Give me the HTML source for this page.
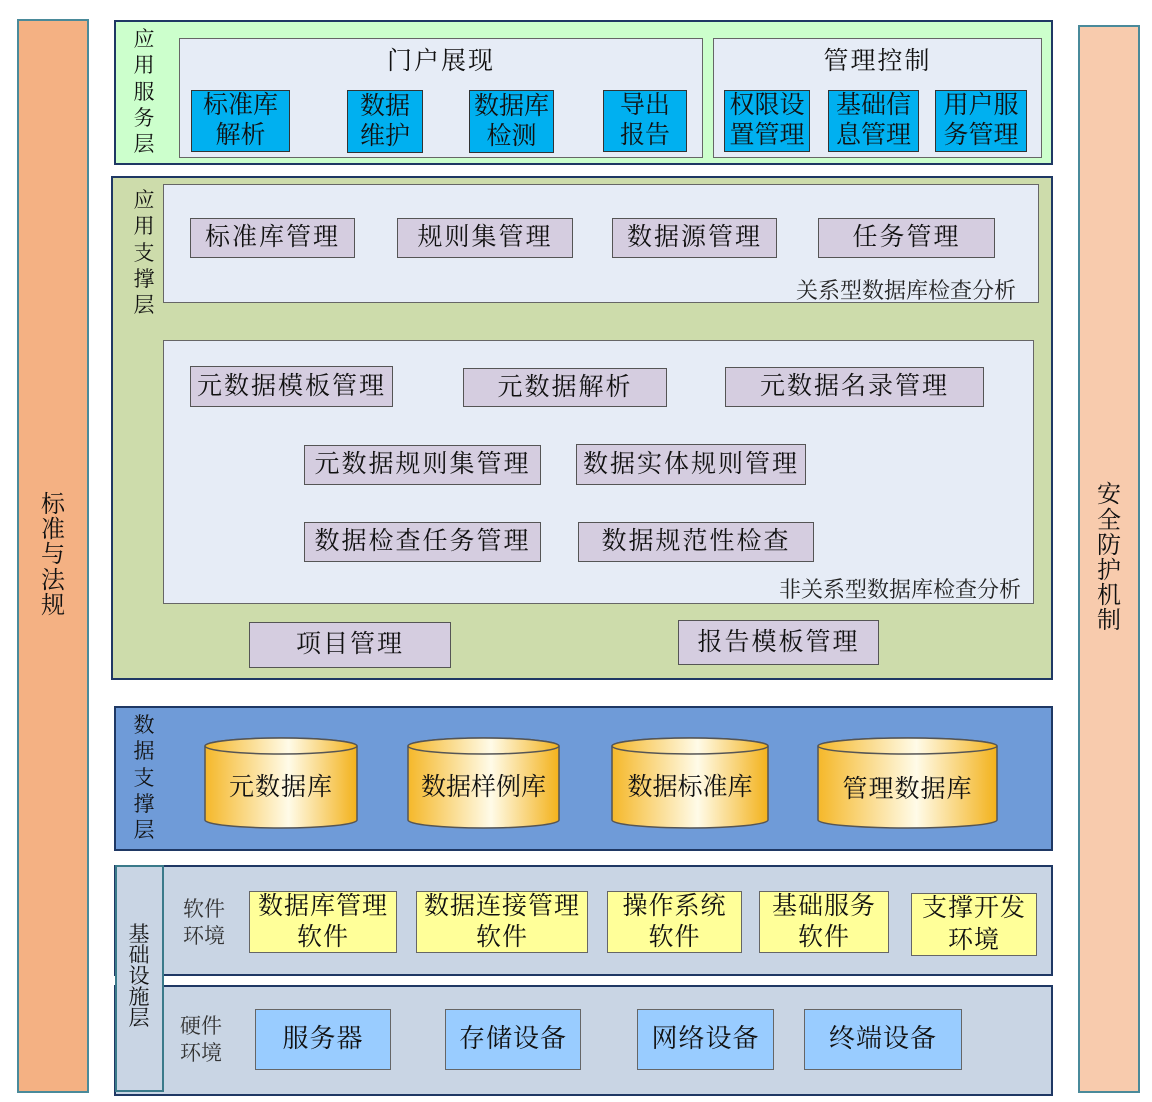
<!DOCTYPE html>
<html><head><meta charset="utf-8"><style>
body{margin:0;width:1152px;height:1102px;background:#fff;position:relative;overflow:hidden;font-family:"Liberation Serif","Noto Serif CJK SC",serif;color:#111}
div{position:absolute;box-sizing:border-box}
.c{display:flex;align-items:center;justify-content:center;text-align:center;line-height:1.25;white-space:nowrap}
.L{border:2px solid #1f3864}
.p{background:#d5cde0;border:1.5px solid #555;font-size:25px;letter-spacing:2px}
.bl{background:#00b0f0;border:1.5px solid #333;font-size:25px;line-height:1.2}
.y{background:#ffff99;border:1.5px solid #666;font-size:25px;line-height:1.25;letter-spacing:1px}
.h{background:#99ccff;border:1.5px solid #666;font-size:26px;letter-spacing:1px}
.in{background:#e6ecf6;border:1.5px solid #666}
.v{font-size:21px;line-height:1.25;text-align:center}
</style></head><body>
<div class="c" style="left:17px;top:19px;width:72px;height:1074px;background:#f4b183;border:2px solid #4a8a9a"><span style="font-size:24px;width:26px;line-height:1.05;white-space:normal">标准与法规</span></div>
<div class="c" style="left:1078px;top:25px;width:62px;height:1068px;background:#f8cbad;border:2px solid #4a8a9a"><span style="font-size:24px;width:26px;line-height:1.05;white-space:normal">安全防护机制</span></div>

<div class="L" style="left:114px;top:20px;width:939px;height:145px;background:#ccffcc"></div>
<div class="v" style="left:131px;top:26px;width:26px">应用服务层</div>
<div class="in" style="left:179px;top:38px;width:524px;height:120px"></div>
<div class="c" style="left:179px;top:47px;width:524px;height:30px;font-size:25px;letter-spacing:2px">门户展现</div>
<div class="in" style="left:713px;top:38px;width:329px;height:120px"></div>
<div class="c" style="left:713px;top:47px;width:329px;height:30px;font-size:25px;letter-spacing:2px">管理控制</div>
<div class="c bl" style="left:191px;top:90px;width:99px;height:62px">标准库<br>解析</div>
<div class="c bl" style="left:347px;top:90px;width:76px;height:63px">数据<br>维护</div>
<div class="c bl" style="left:469px;top:90px;width:85px;height:63px">数据库<br>检测</div>
<div class="c bl" style="left:603px;top:90px;width:84px;height:62px">导出<br>报告</div>
<div class="c bl" style="left:724px;top:90px;width:86px;height:62px">权限设<br>置管理</div>
<div class="c bl" style="left:828px;top:90px;width:91px;height:62px">基础信<br>息管理</div>
<div class="c bl" style="left:935px;top:90px;width:92px;height:62px">用户服<br>务管理</div>

<div class="L" style="left:111px;top:176px;width:942px;height:504px;background:#cddcab"></div>
<div class="v" style="left:131px;top:187px;width:26px">应用支撑层</div>
<div class="in" style="left:163px;top:184px;width:876px;height:119px"></div>
<div class="c p" style="left:190px;top:218px;width:165px;height:40px">标准库管理</div>
<div class="c p" style="left:397px;top:218px;width:176px;height:40px">规则集管理</div>
<div class="c p" style="left:612px;top:218px;width:165px;height:40px">数据源管理</div>
<div class="c p" style="left:818px;top:218px;width:177px;height:40px">任务管理</div>
<div style="left:680px;top:274px;width:336px;text-align:right;font-size:22px;color:#222;white-space:nowrap">关系型数据库检查分析</div>
<div class="in" style="left:163px;top:340px;width:871px;height:264px"></div>
<div class="c p" style="left:190px;top:366px;width:203px;height:41px">元数据模板管理</div>
<div class="c p" style="left:463px;top:368px;width:204px;height:39px">元数据解析</div>
<div class="c p" style="left:725px;top:367px;width:259px;height:40px">元数据名录管理</div>
<div class="c p" style="left:304px;top:445px;width:237px;height:40px">元数据规则集管理</div>
<div class="c p" style="left:576px;top:444px;width:230px;height:41px">数据实体规则管理</div>
<div class="c p" style="left:304px;top:522px;width:237px;height:40px">数据检查任务管理</div>
<div class="c p" style="left:578px;top:522px;width:236px;height:40px">数据规范性检查</div>
<div style="left:680px;top:573px;width:341px;text-align:right;font-size:22px;color:#222;white-space:nowrap">非关系型数据库检查分析</div>
<div class="c p" style="left:249px;top:622px;width:202px;height:46px">项目管理</div>
<div class="c p" style="left:678px;top:620px;width:201px;height:45px">报告模板管理</div>

<div class="L" style="left:114px;top:706px;width:939px;height:145px;background:#6f9bd8"></div>
<div class="v" style="left:131px;top:712px;width:26px">数据支撑层</div>
<svg style="position:absolute;left:0;top:0" width="1152" height="1102">
<defs><linearGradient id="g" x1="0" x2="1"><stop offset="0" stop-color="#f5b82a"/><stop offset="0.55" stop-color="#fffbe8"/><stop offset="1" stop-color="#f3b21c"/></linearGradient></defs>
<g stroke="#555" stroke-width="1.5" fill="url(#g)">
<path d="M205 746 V820 A76 8 0 0 0 357 820 V746 A76 8 0 0 0 205 746Z"/><ellipse cx="281" cy="746" rx="76" ry="8"/>
<path d="M408 746 V820 A75.5 8 0 0 0 559 820 V746 A75.5 8 0 0 0 408 746Z"/><ellipse cx="483.5" cy="746" rx="75.5" ry="8"/>
<path d="M612 746 V820 A78 8 0 0 0 768 820 V746 A78 8 0 0 0 612 746Z"/><ellipse cx="690" cy="746" rx="78" ry="8"/>
<path d="M818 746 V820 A89.5 8 0 0 0 997 820 V746 A89.5 8 0 0 0 818 746Z"/><ellipse cx="907.5" cy="746" rx="89.5" ry="8"/>
</g></svg>
<div class="c" style="left:205px;top:770px;width:152px;height:36px;font-size:25px;letter-spacing:1px">元数据库</div>
<div class="c" style="left:408px;top:770px;width:151px;height:36px;font-size:25px">数据样例库</div>
<div class="c" style="left:612px;top:770px;width:156px;height:36px;font-size:25px">数据标准库</div>
<div class="c" style="left:818px;top:772px;width:179px;height:36px;font-size:25px;letter-spacing:1px">管理数据库</div>

<div class="L" style="left:114px;top:865px;width:939px;height:111px;background:#c9d5e4"></div>
<div class="L" style="left:114px;top:985px;width:939px;height:111px;background:#c9d5e4"></div>
<div style="left:115px;top:865px;width:49px;height:227px;background:#c9d5e4;border:2px solid #3a7a8a"></div>
<div style="left:127px;top:924px;width:24px;font-size:21px;line-height:1.0;text-align:center">基础设施层</div>
<div style="left:183px;top:896px;width:50px;font-size:21px;line-height:1.3;color:#333">软件<br>环境</div>
<div style="left:180px;top:1013px;width:50px;font-size:21px;line-height:1.3;color:#333">硬件<br>环境</div>
<div class="c y" style="left:249px;top:891px;width:148px;height:62px">数据库管理<br>软件</div>
<div class="c y" style="left:416px;top:891px;width:172px;height:62px">数据连接管理<br>软件</div>
<div class="c y" style="left:607px;top:891px;width:135px;height:62px">操作系统<br>软件</div>
<div class="c y" style="left:759px;top:891px;width:130px;height:62px">基础服务<br>软件</div>
<div class="c y" style="left:911px;top:893px;width:126px;height:63px">支撑开发<br>环境</div>
<div class="c h" style="left:255px;top:1009px;width:136px;height:61px">服务器</div>
<div class="c h" style="left:445px;top:1009px;width:136px;height:61px">存储设备</div>
<div class="c h" style="left:637px;top:1009px;width:137px;height:61px">网络设备</div>
<div class="c h" style="left:804px;top:1009px;width:158px;height:61px">终端设备</div>
</body></html>
